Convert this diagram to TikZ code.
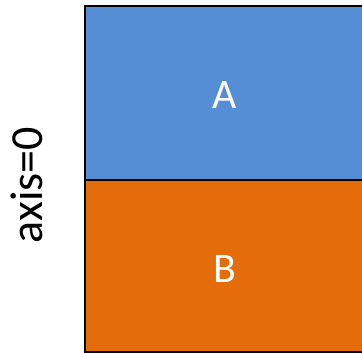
\documentclass[tikz,border=0pt]{standalone}
\usepackage{fontspec}
\setmainfont{Carlito}
\definecolor{blockA}{HTML}{558ED5}
\definecolor{blockB}{HTML}{E46C0A}
\begin{document}
\begin{tikzpicture}[x=1pt,y=-1pt,
  block/.style={draw=black,line width=2.4pt},
  blocklabel/.style={text=white,font=\fontsize{42}{42}\selectfont},
  axislabel/.style={font=\fontsize{46}{46}\selectfont,rotate=90}]
  \useasboundingbox (0,0) rectangle (362,353);
  \fill[blockA] (85,6) rectangle (366,180);
  \fill[blockB] (85,180) rectangle (366,352);
  \draw[block] (85,6) rectangle (366,352);
  \draw[block] (85,180) -- (366,180);
  \node[blocklabel] (a) at (225,95) {A};
  \node[blocklabel] (b) at (225,269) {B};
  \node[axislabel] (ax) at (27,185) {axis=0};
\end{tikzpicture}
\end{document}
